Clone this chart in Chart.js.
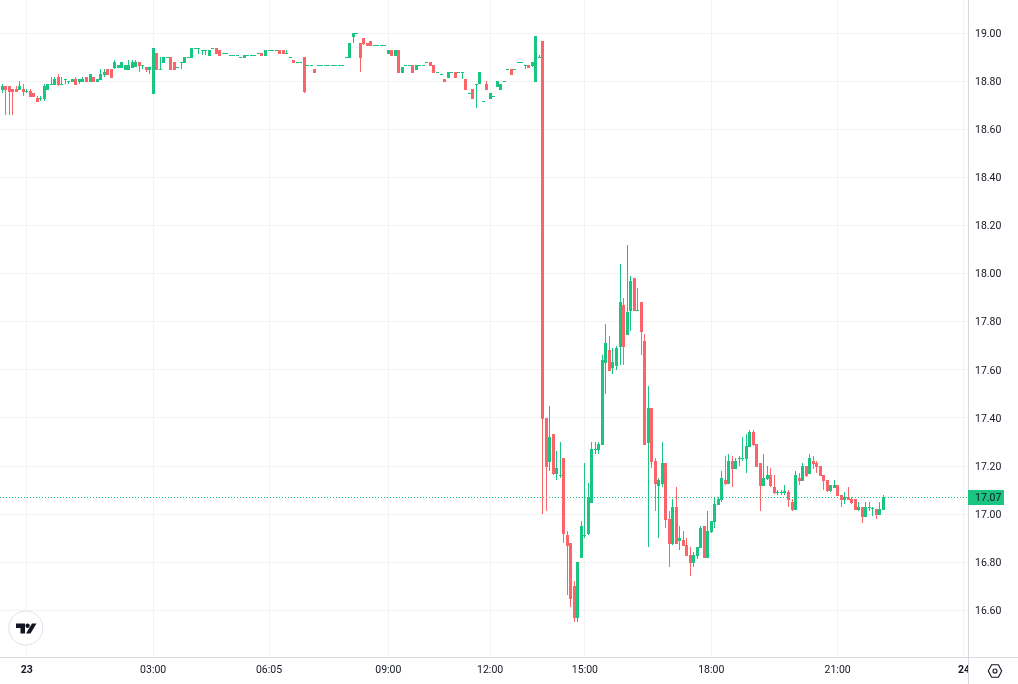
<!DOCTYPE html>
<html>
<head>
<meta charset="utf-8">
<style>
  html, body { margin: 0; padding: 0; background: #fff; }
  canvas { display: block; }
</style>
<script src="https://cdn.jsdelivr.net/npm/chart.js@4/dist/chart.umd.min.js"></script>
</head>
<body>
<canvas id="chart" width="1018" height="684"></canvas>
<script>
// 5 minute candles
var opens = [
  18.765,18.781,18.781,18.769,18.769,18.765,18.769,18.756,18.761,18.752,
  18.731,18.727,18.727,18.765,18.786,18.786,18.819,18.786,18.806,18.798,
  18.798,18.810,18.798,18.798,18.819,18.798,18.819,18.798,18.806,18.827,
  18.852,18.852,18.856,18.856,18.856,18.848,18.848,18.856,18.860,18.881,
  18.865,18.860,18.848,18.748,18.919,18.848,18.877,18.898,18.902,18.881,
  18.856,18.877,18.877,18.898,18.898,18.935,18.935,18.927,18.927,18.906,
  18.935,18.939,18.931,18.915,18.915,18.906,18.906,18.906,18.898,18.898,
  18.906,18.906,18.906,18.915,18.919,18.906,18.927,18.927,18.927,18.931,
  18.931,18.915,18.898,18.890,18.877,18.877,18.902,18.865,18.865,18.852,
  18.865,18.865,18.865,18.865,18.865,18.865,18.865,18.865,18.898,18.898,
  18.985,18.998,18.960,18.981,18.960,18.969,18.948,18.948,18.948,18.948,
  18.915,18.931,18.906,18.931,18.835,18.865,18.865,18.869,18.848,18.865,
  18.865,18.877,18.881,18.869,18.835,18.827,18.810,18.815,18.835,18.840,
  18.835,18.835,18.810,18.748,18.769,18.786,18.790,18.715,18.790,18.727,
  18.736,18.777,18.765,18.798,18.848,18.852,18.848,18.877,18.877,18.865,
  18.869,18.865,18.798,18.898,18.969,17.400,17.217,17.333,17.167,17.159,
  17.233,16.913,16.880,16.701,16.568,16.817,16.909,16.917,17.046,17.267,
  17.267,17.288,17.629,17.683,17.608,17.616,17.695,17.870,17.745,17.845,
  17.983,17.845,17.883,17.720,17.296,17.442,17.221,17.117,17.125,17.213,
  16.980,16.876,17.030,16.888,16.892,16.872,16.830,16.797,16.826,16.859,
  16.951,16.817,16.926,16.967,17.038,17.059,17.142,17.125,17.221,17.188,
  17.229,17.229,17.229,17.279,17.342,17.292,17.213,17.117,17.146,17.163,
  17.113,17.088,17.088,17.088,17.092,17.050,17.017,17.150,17.138,17.200,
  17.167,17.221,17.213,17.200,17.163,17.142,17.096,17.109,17.121,17.080,
  17.059,17.071,17.063,17.063,17.017,17.030,16.988,17.025,17.021,17.021,
  16.996,17.017
];
var closes = [
  18.781,18.765,18.756,18.756,18.756,18.781,18.756,18.761,18.736,18.736,
  18.715,18.731,18.781,18.790,18.790,18.810,18.786,18.790,18.810,18.802,
  18.810,18.786,18.810,18.810,18.798,18.831,18.798,18.810,18.831,18.840,
  18.827,18.815,18.881,18.869,18.881,18.869,18.869,18.881,18.881,18.865,
  18.869,18.848,18.860,18.939,18.848,18.852,18.902,18.902,18.848,18.848,
  18.860,18.881,18.902,18.902,18.939,18.939,18.939,18.931,18.931,18.931,
  18.939,18.915,18.906,18.919,18.919,18.910,18.910,18.910,18.902,18.910,
  18.910,18.910,18.910,18.919,18.906,18.931,18.931,18.931,18.931,18.915,
  18.915,18.919,18.902,18.877,18.881,18.881,18.756,18.869,18.869,18.835,
  18.869,18.869,18.869,18.869,18.869,18.869,18.869,18.869,18.902,18.960,
  19.002,19.002,18.898,18.956,18.948,18.948,18.952,18.952,18.952,18.952,
  18.931,18.906,18.931,18.835,18.860,18.869,18.869,18.835,18.869,18.869,
  18.869,18.881,18.865,18.835,18.840,18.831,18.798,18.840,18.840,18.815,
  18.840,18.840,18.765,18.752,18.727,18.790,18.840,18.719,18.765,18.752,
  18.740,18.802,18.790,18.802,18.852,18.827,18.852,18.881,18.881,18.869,
  18.856,18.881,18.989,18.902,17.397,17.196,17.321,17.167,17.192,17.163,
  16.917,16.867,16.647,16.568,16.801,16.951,16.913,17.071,17.271,17.271,
  17.292,17.641,17.712,17.596,17.633,17.691,17.883,17.695,17.841,17.970,
  17.845,17.849,17.758,17.288,17.442,17.217,17.125,17.142,17.213,16.976,
  16.876,17.030,16.876,16.901,16.867,16.826,16.797,16.830,16.863,16.942,
  16.817,16.930,16.971,17.042,17.063,17.150,17.125,17.221,17.188,17.221,
  17.233,17.233,17.283,17.342,17.288,17.196,17.117,17.150,17.163,17.117,
  17.088,17.092,17.092,17.096,17.059,17.017,17.163,17.138,17.200,17.159,
  17.234,17.209,17.196,17.159,17.138,17.096,17.121,17.121,17.075,17.059,
  17.071,17.059,17.046,17.017,17.030,16.988,17.030,17.030,17.025,16.996,
  17.021,17.071
];
var highs = [
  18.790,18.781,18.781,18.769,18.781,18.802,18.790,18.769,18.769,18.752,
  18.740,18.740,18.790,18.790,18.819,18.819,18.831,18.819,18.810,18.802,
  18.810,18.819,18.810,18.819,18.819,18.831,18.819,18.810,18.852,18.852,
  18.852,18.852,18.890,18.869,18.881,18.869,18.890,18.890,18.890,18.881,
  18.869,18.860,18.860,18.939,18.919,18.902,18.902,18.902,18.902,18.881,
  18.860,18.881,18.902,18.902,18.939,18.939,18.939,18.931,18.931,18.931,
  18.939,18.939,18.931,18.919,18.919,18.910,18.910,18.910,18.902,18.910,
  18.910,18.910,18.910,18.919,18.919,18.931,18.931,18.931,18.931,18.931,
  18.931,18.931,18.902,18.890,18.881,18.881,18.902,18.869,18.869,18.852,
  18.869,18.869,18.869,18.869,18.869,18.869,18.869,18.869,18.902,18.960,
  19.002,19.002,18.960,18.981,18.960,18.969,18.952,18.952,18.952,18.952,
  18.931,18.931,18.931,18.931,18.860,18.869,18.869,18.869,18.869,18.869,
  18.869,18.881,18.881,18.869,18.840,18.831,18.810,18.840,18.840,18.840,
  18.840,18.840,18.810,18.752,18.769,18.790,18.840,18.719,18.802,18.752,
  18.740,18.802,18.790,18.802,18.852,18.852,18.852,18.881,18.881,18.869,
  18.869,18.881,18.989,18.910,18.969,17.400,17.450,17.333,17.263,17.300,
  17.233,16.930,16.880,16.722,16.801,16.971,17.213,17.130,17.300,17.300,
  17.300,17.662,17.791,17.741,17.691,17.700,18.041,17.899,18.120,17.991,
  17.983,17.941,17.883,17.750,17.533,17.442,17.234,17.150,17.300,17.213,
  17.013,17.063,17.113,16.951,16.930,16.901,16.863,16.842,16.863,16.951,
  16.951,17.013,16.971,17.071,17.071,17.179,17.242,17.250,17.242,17.233,
  17.242,17.321,17.333,17.350,17.350,17.292,17.213,17.250,17.200,17.192,
  17.163,17.100,17.100,17.121,17.100,17.063,17.179,17.171,17.213,17.200,
  17.250,17.242,17.221,17.200,17.163,17.142,17.121,17.142,17.121,17.080,
  17.092,17.113,17.071,17.063,17.050,17.030,17.050,17.050,17.030,17.021,
  17.050,17.080
];
var lows = [
  18.754,18.661,18.661,18.661,18.756,18.765,18.740,18.752,18.736,18.736,
  18.715,18.719,18.719,18.765,18.786,18.786,18.781,18.786,18.790,18.790,
  18.798,18.786,18.790,18.798,18.798,18.798,18.798,18.798,18.806,18.819,
  18.827,18.815,18.852,18.856,18.856,18.848,18.848,18.856,18.860,18.840,
  18.852,18.840,18.831,18.748,18.848,18.848,18.877,18.898,18.848,18.848,
  18.856,18.852,18.877,18.898,18.898,18.935,18.915,18.910,18.910,18.906,
  18.935,18.915,18.906,18.915,18.915,18.906,18.906,18.906,18.898,18.898,
  18.906,18.906,18.906,18.915,18.906,18.906,18.927,18.927,18.927,18.915,
  18.915,18.915,18.898,18.877,18.877,18.877,18.752,18.865,18.865,18.835,
  18.865,18.865,18.865,18.865,18.865,18.865,18.865,18.865,18.898,18.898,
  18.960,18.998,18.840,18.952,18.948,18.948,18.948,18.948,18.948,18.948,
  18.915,18.906,18.906,18.835,18.835,18.865,18.865,18.835,18.848,18.865,
  18.865,18.877,18.865,18.835,18.835,18.827,18.798,18.815,18.835,18.815,
  18.835,18.810,18.765,18.748,18.727,18.690,18.790,18.715,18.765,18.727,
  18.736,18.777,18.765,18.798,18.848,18.827,18.848,18.877,18.877,18.852,
  18.856,18.860,18.798,18.898,17.000,17.013,17.179,17.163,17.142,17.150,
  16.880,16.663,16.613,16.551,16.551,16.817,16.901,16.913,17.046,17.250,
  17.250,17.288,17.500,17.596,17.583,17.600,17.621,17.621,17.745,17.762,
  17.845,17.845,17.662,17.288,16.863,17.192,17.013,16.901,17.113,16.942,
  16.780,16.872,16.876,16.851,16.867,16.826,16.742,16.780,16.813,16.859,
  16.817,16.817,16.921,16.942,17.038,17.050,17.121,17.125,17.113,17.188,
  17.200,17.221,17.171,17.279,17.283,17.196,17.013,17.117,17.142,17.113,
  17.084,17.080,17.080,17.080,17.030,17.013,17.017,17.121,17.138,17.154,
  17.167,17.188,17.171,17.159,17.100,17.092,17.092,17.109,17.075,17.030,
  17.042,17.059,17.042,17.017,17.013,16.963,16.988,17.013,16.992,16.980,
  16.996,17.017
];

var tickPos = [7, 43, 76, 110, 139, 166, 202, 238, 274];
var tickText = ['23', '03:00', '06:05', '09:00', '12:00', '15:00', '18:00', '21:00', '24'];
var boldTicks = ['23', '24'];
var priceTicks = [16.6, 16.8, 17.0, 17.2, 17.4, 17.6, 17.8, 18.0, 18.2, 18.4, 18.6, 18.8, 19.0];
var lastPrice = 17.07;

var green = '#1ac481';
var red = '#fb6468';
var textColor = '#131722';
var gridColor = '#f3f3f4';
var axisColor = '#d6d7e0';
var axisFont = 'Roboto, sans-serif';
var axisSize = 10.5;

var xMin = -0.641, xMax = 275.142;

var candleColors = [], wicks = [], bodies = [];
for (var i = 0; i < opens.length; i++) {
  candleColors.push(closes[i] >= opens[i] ? green : red);
  wicks.push({ x: i, y: [lows[i], highs[i]] });
  bodies.push({ x: i, y: [opens[i], closes[i]] });
}

// keep candles and the price line on whole pixels so they stay sharp
var snapMarks = {
  id: 'snapMarks',
  afterDatasetsUpdate: function (chart) {
    chart.getDatasetMeta(0).data.forEach(function (pt) {
      pt.y = Math.floor(pt.y) + 0.5;
    });
    [1, 2].forEach(function (d) {
      chart.getDatasetMeta(d).data.forEach(function (el) {
        el.x = Math.floor(el.x) + 0.5;
        el.y = Math.round(el.y);
        el.base = Math.round(el.base);
        if (el.y === el.base) el.base = el.y + 1;
      });
    });
  }
};

var overlays = {
  id: 'overlays',
  afterDraw: function (chart) {
    var c = chart.ctx, a = chart.chartArea;
    var py = chart.scales.y.getPixelForValue(lastPrice);
    c.save();

    // axis corner, the 24 label is cut off by the price axis
    c.fillStyle = '#fff';
    c.fillRect(a.right, a.bottom + 1, 1018 - a.right, 684 - a.bottom);
    c.strokeStyle = axisColor;
    c.lineWidth = 1;
    c.beginPath();
    c.moveTo(0, a.bottom + 0.5); c.lineTo(1018, a.bottom + 0.5);
    c.moveTo(a.right + 0.5, 0); c.lineTo(a.right + 0.5, 684);
    c.stroke();

    // last price tag
    c.fillStyle = green;
    c.fillRect(a.right, Math.round(py) - 7, 36, 15);
    c.fillStyle = textColor;
    c.font = axisSize + 'px ' + axisFont;
    c.textBaseline = 'middle';
    c.fillText(lastPrice.toFixed(2), a.right + 7, Math.round(py) + 1);

    // logo badge
    c.beginPath();
    c.arc(25.7, 628, 17, 0, Math.PI * 2);
    c.fillStyle = '#fff';
    c.fill();
    c.strokeStyle = '#e0e3eb';
    c.stroke();
    c.fillStyle = textColor;
    c.beginPath();
    c.moveTo(16, 623.5); c.lineTo(25, 623.5); c.lineTo(25, 633.5); c.lineTo(20.5, 633.5);
    c.lineTo(20.5, 628); c.lineTo(16, 628);
    c.closePath();
    c.moveTo(32, 623.5); c.lineTo(36.5, 623.5); c.lineTo(30.5, 633.5); c.lineTo(26, 633.5);
    c.closePath();
    c.fill();
    c.beginPath();
    c.arc(27.6, 625.7, 2.2, 0, Math.PI * 2);
    c.fill();

    // settings icon
    c.strokeStyle = textColor;
    c.lineWidth = 1.1;
    c.beginPath();
    c.moveTo(988.3, 671); c.lineTo(991.6, 664.8); c.lineTo(998.4, 664.8);
    c.lineTo(1001.7, 671); c.lineTo(998.4, 677.2); c.lineTo(991.6, 677.2);
    c.closePath();
    c.stroke();
    c.beginPath();
    c.arc(995, 671, 2, 0, Math.PI * 2);
    c.stroke();
    c.restore();
  }
};

new Chart(document.getElementById('chart'), {
  data: {
    datasets: [
      {
        type: 'line',
        data: [{ x: xMin, y: lastPrice }, { x: xMax, y: lastPrice }],
        borderColor: green,
        borderWidth: 1,
        borderDash: [1, 2],
        pointRadius: 0,
        order: 3
      },
      {
        type: 'bar',
        data: wicks,
        backgroundColor: candleColors,
        barThickness: 1,
        grouped: false,
        inflateAmount: 0,
        order: 2
      },
      {
        type: 'bar',
        data: bodies,
        backgroundColor: candleColors,
        barThickness: 3,
        grouped: false,
        inflateAmount: 0,
        order: 1
      }
    ]
  },
  options: {
    responsive: false,
    animation: false,
    layout: { padding: 0 },
    plugins: { legend: { display: false }, tooltip: { enabled: false } },
    scales: {
      x: {
        type: 'linear',
        offset: false,
        min: xMin,
        max: xMax,
        afterBuildTicks: function (s) {
          s.ticks = tickPos.map(function (v) { return { value: v }; });
        },
        afterFit: function (s) { s.height = 27; s.paddingLeft = 0; s.paddingRight = 0; },
        grid: { color: gridColor, drawTicks: false, offset: false },
        border: { display: false },
        ticks: {
          autoSkip: false,
          maxRotation: 0,
          padding: 7,
          color: textColor,
          font: function (ctx) {
            var t = ctx.tick ? tickText[tickPos.indexOf(ctx.tick.value)] : '';
            return { family: axisFont, size: axisSize, weight: boldTicks.indexOf(t) >= 0 ? 'bold' : 'normal' };
          },
          callback: function (v) { return tickText[tickPos.indexOf(v)]; }
        }
      },
      y: {
        position: 'right',
        min: 16.4053,
        max: 19.1394,
        afterBuildTicks: function (s) {
          s.ticks = priceTicks.map(function (v) { return { value: v }; });
        },
        afterFit: function (s) { s.width = 50; s.paddingTop = 0; s.paddingBottom = 0; },
        grid: { color: gridColor, drawTicks: false },
        border: { display: false },
        ticks: {
          padding: 7,
          crossAlign: 'near',
          labelOffset: 1,
          color: textColor,
          font: { family: axisFont, size: axisSize },
          callback: function (v) { return v.toFixed(2); }
        }
      }
    }
  },
  plugins: [snapMarks, overlays]
});
</script>
</body>
</html>
